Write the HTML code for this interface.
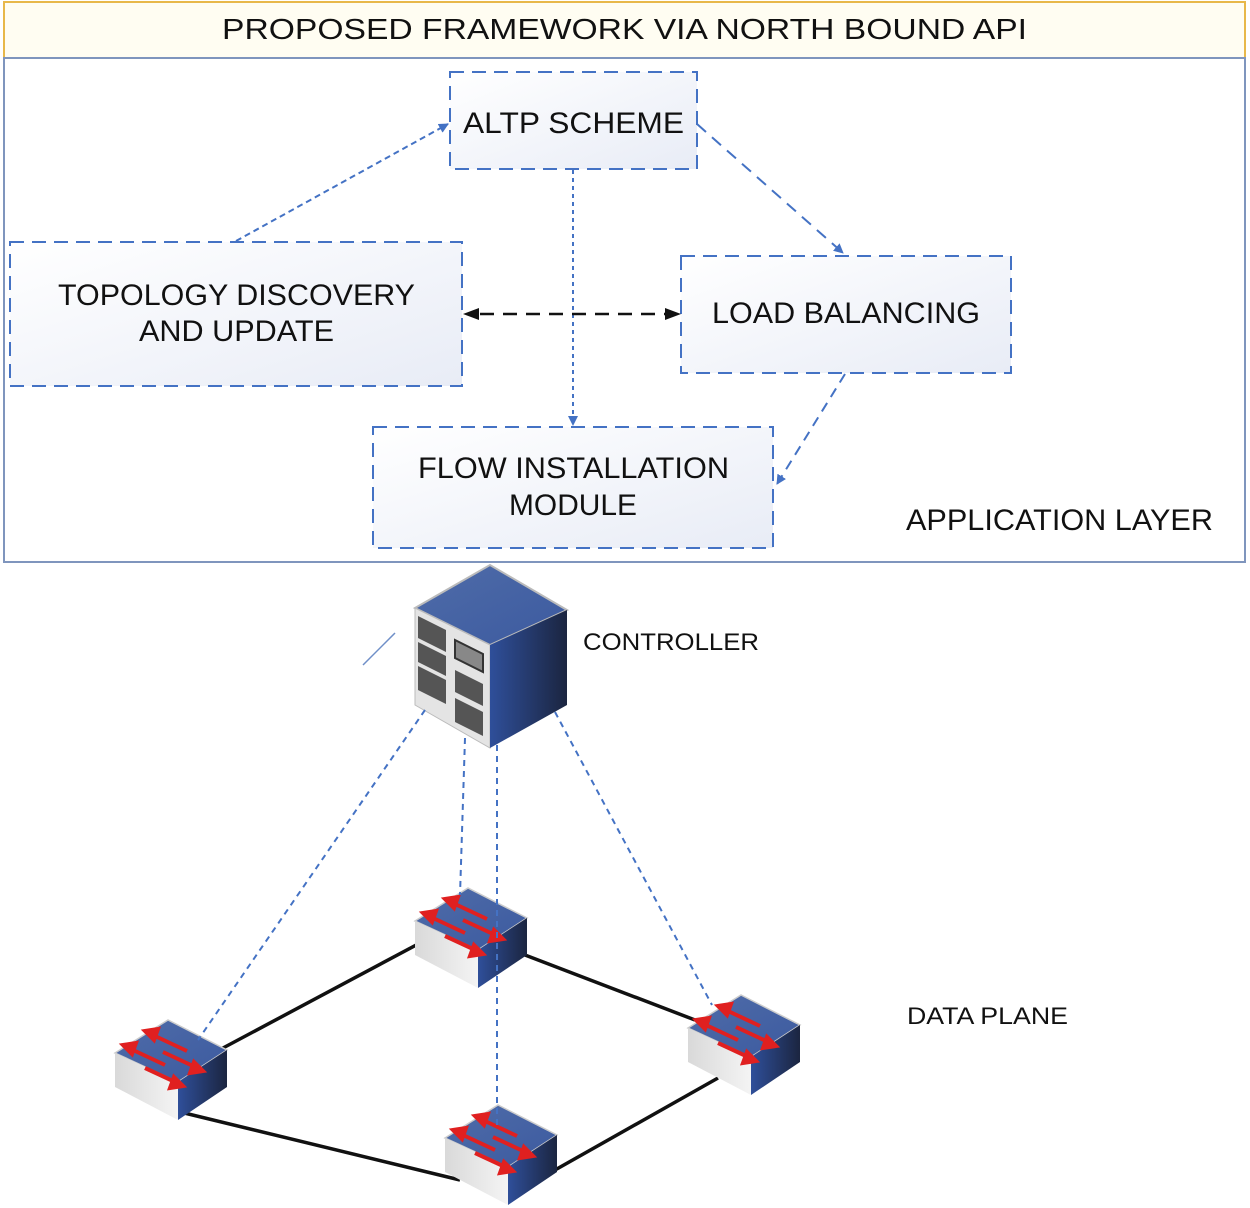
<!DOCTYPE html>
<html><head><meta charset="utf-8"><style>body{margin:0;background:#fff}svg{display:block}text{font-family:"Liberation Sans",sans-serif;fill:#111}</style></head><body>
<svg width="1250" height="1208" viewBox="0 0 1250 1208" xmlns="http://www.w3.org/2000/svg">
<defs>
<linearGradient id="bx" x1="0" y1="0" x2="1" y2="1"><stop offset="0" stop-color="#ffffff"/><stop offset="1" stop-color="#e8ecf6"/></linearGradient>
<linearGradient id="top" x1="0" y1="0" x2="1" y2="1"><stop offset="0" stop-color="#4f6ca8"/><stop offset="1" stop-color="#3c5aa0"/></linearGradient>
<linearGradient id="rs" x1="0" y1="0" x2="1" y2="0"><stop offset="0" stop-color="#2f4f9a"/><stop offset="1" stop-color="#1b2540"/></linearGradient>
<linearGradient id="ls" x1="0" y1="0" x2="1" y2="0"><stop offset="0" stop-color="#d9d9d9"/><stop offset="1" stop-color="#f4f4f4"/></linearGradient>
<marker id="ab" markerWidth="10" markerHeight="10" refX="9" refY="5" orient="auto" markerUnits="userSpaceOnUse"><path d="M0,0L10,5L0,10z" fill="#4472c4"/></marker>
<g id="sw">
<path d="M0,33 L53,0 L112,30 L63,62z" fill="url(#top)" stroke="#ccc" stroke-width="1.5"/>
<path d="M0,33 L63,62 L63,100 L0,67z" fill="url(#ls)"/>
<path d="M63,62 L112,30 L112,67 L63,100z" fill="url(#rs)"/>
<g stroke="#e02020" stroke-width="4" fill="#e02020">
<line x1="40" y1="16" x2="72" y2="31"/><path d="M30,11l13,-2l-4,11z"/>
<line x1="18" y1="30" x2="50" y2="45"/><path d="M8,25l13,-2l-4,11z"/>
<line x1="48" y1="32" x2="78" y2="46"/><path d="M88,51l-13,2l4,-11z"/>
<line x1="30" y1="48" x2="58" y2="61"/><path d="M68,66l-13,2l4,-11z"/>
</g>
</g>
</defs>
<rect x="4" y="2" width="1241" height="56" fill="#fffdf2" stroke="#e8b84a" stroke-width="2"/>
<text x="222" y="39" font-size="29" textLength="805" lengthAdjust="spacingAndGlyphs">PROPOSED FRAMEWORK VIA NORTH BOUND API</text>
<rect x="4" y="58" width="1241" height="504" fill="#fff" stroke="#7f95bd" stroke-width="2"/>
<g stroke="#4472c4" stroke-width="2" stroke-dasharray="14,8" fill="url(#bx)">
<rect x="450" y="72" width="247" height="97"/>
<rect x="10" y="242" width="452" height="144"/>
<rect x="681" y="256" width="330" height="117"/>
<rect x="373" y="427" width="400" height="121"/>
</g>
<g font-size="30" lengthAdjust="spacingAndGlyphs">
<text x="463" y="133" textLength="221" lengthAdjust="spacingAndGlyphs">ALTP SCHEME</text>
<text x="58" y="305" textLength="357" lengthAdjust="spacingAndGlyphs">TOPOLOGY DISCOVERY</text>
<text x="139" y="341" textLength="195" lengthAdjust="spacingAndGlyphs">AND UPDATE</text>
<text x="712" y="323" textLength="268" lengthAdjust="spacingAndGlyphs">LOAD BALANCING</text>
<text x="418" y="478" textLength="311" lengthAdjust="spacingAndGlyphs">FLOW INSTALLATION</text>
<text x="509" y="515" textLength="128" lengthAdjust="spacingAndGlyphs">MODULE</text>
<text x="906" y="530" textLength="307" lengthAdjust="spacingAndGlyphs">APPLICATION LAYER</text>
</g>
<g stroke="#4472c4" stroke-width="2" fill="none">
<line x1="236" y1="241" x2="448" y2="124" stroke-dasharray="6,4" marker-end="url(#ab)"/>
<line x1="697" y1="124" x2="843" y2="253" stroke-dasharray="12,8" marker-end="url(#ab)"/>
<line x1="573" y1="170" x2="573" y2="425" stroke-dasharray="4,4" marker-end="url(#ab)"/>
<line x1="845" y1="374" x2="777" y2="484" stroke-dasharray="10,7" marker-end="url(#ab)"/>
</g>
<line x1="480" y1="314" x2="665" y2="314" stroke="#111" stroke-width="2.5" stroke-dasharray="14,9"/>
<path d="M463,314l16,-6v12z M681,314l-16,-6v12z" fill="#111"/>
<line x1="363" y1="665" x2="395" y2="633" stroke="#6f8fc8" stroke-width="1.5"/>
<path d="M415,608 L490,565 L567,610 L490,645z" fill="url(#top)" stroke="#bbb" stroke-width="2"/>
<path d="M415,608 L490,645 L490,748 L415,705z" fill="#e4e4e4" stroke="#bbb"/>
<path d="M490,645 L567,610 L567,705 L490,748z" fill="url(#rs)"/>
<g fill="#555">
<path d="M418,616l28,14v22l-28,-14z M418,642l28,14v20l-28,-14z M418,666l28,14v24l-28,-14z"/>
<path d="M455,640l28,14v18l-28,-14z" fill="#888" stroke="#333" stroke-width="2"/>
<path d="M455,670l28,14v22l-28,-14z M455,698l28,14v24l-28,-14z"/>
</g>
<text x="583" y="650" font-size="24" textLength="176" lengthAdjust="spacingAndGlyphs">CONTROLLER</text>
<text x="907" y="1024" font-size="24" textLength="161" lengthAdjust="spacingAndGlyphs">DATA PLANE</text>
<g stroke="#111" stroke-width="3.5">
<line x1="435" y1="935" x2="178" y2="1072"/>
<line x1="525" y1="955" x2="695" y2="1020"/>
<line x1="172" y1="1110" x2="460" y2="1180"/>
<line x1="555" y1="1170" x2="718" y2="1078"/>
</g>
<use href="#sw" x="415" y="888"/>
<use href="#sw" x="115" y="1020"/>
<use href="#sw" x="688" y="995"/>
<use href="#sw" x="445" y="1105"/>
<g stroke="#4472c4" stroke-width="2" stroke-dasharray="6,5">
<line x1="425" y1="710" x2="198" y2="1040"/>
<line x1="465" y1="738" x2="460" y2="895"/>
<line x1="497" y1="745" x2="497" y2="1125"/>
<line x1="555" y1="712" x2="712" y2="1005"/>
</g>
</svg>
</body></html>
